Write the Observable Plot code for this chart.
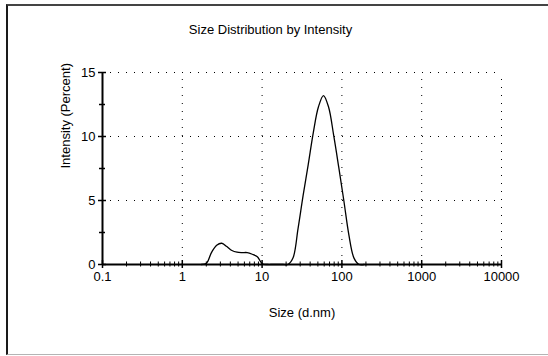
<!DOCTYPE html>
<html><head><meta charset="utf-8">
<script src="https://cdn.jsdelivr.net/npm/d3@7"></script>
<script src="https://cdn.jsdelivr.net/npm/@observablehq/plot@0.6"></script>
<style>
body{margin:0;background:#fff;}
#wrap{position:relative;width:548px;height:356px;overflow:hidden;font-family:"Liberation Sans",Arial,sans-serif;}
#frame{position:absolute;left:6px;top:4px;width:560px;height:348px;border-top:2px solid #444;border-left:2px solid #1a1a1a;border-bottom:1px solid #b4b4b4;pointer-events:none;}
#chart svg{position:absolute;left:0;top:0;}
</style></head><body>
<div id="wrap"><div id="chart"></div><div id="frame"></div></div>
<script>
const title = "Size Distribution by Intensity";
const xLabel = "Size (d.nm)";
const yLabel = "Intensity (Percent)";
const sizes = [1.736, 2.010, 2.328, 2.696, 3.122, 3.615, 4.187, 4.849, 5.615, 6.503, 7.531, 8.721, 10.10, 11.70, 13.54, 15.69, 18.17, 21.04, 24.36, 28.21, 32.67, 37.84, 43.82, 50.75, 58.77, 68.06, 78.82, 91.28, 105.7, 122.4, 141.8, 164.2, 190.1];
const intensity = [0, 0.1, 0.95, 1.5, 1.66, 1.4, 1.09, 0.96, 0.93, 0.93, 0.8, 0.6, 0.05, 0, 0, 0, 0, 0, 0.5, 2.8, 5.4, 7.8, 10.3, 12.3, 13.2, 12.3, 10.1, 7.6, 5.0, 2.3, 0.5, 0, 0];
const xTicks = [0.1, 1, 10, 100, 1000, 10000];
const xTickLabels = ["0.1", "1", "10", "100", "1000", "10000"];
const yTicks = [0, 5, 10, 15];
const yTickLabels = ["0", "5", "10", "15"];
const yMinor = [2.5, 7.5, 12.5];

const xMinor = [];
for (const d of xTicks.slice(0, -1)) for (let k = 2; k <= 9; k++) xMinor.push(d * k);
const data = sizes.map((s, i) => ({size: s, value: intensity[i]}));
const dots = "1,7";

const plot = Plot.plot({
  width: 548, height: 356,
  marginLeft: 102, marginRight: 47, marginTop: 72, marginBottom: 92,
  style: {fontFamily: "Liberation Sans, Arial, sans-serif", fontSize: "13px", background: "transparent", color: "black"},
  x: {type: "log", domain: [0.1, 10000]},
  y: {domain: [0, 15]},
  marks: [
    Plot.ruleX(xTicks.slice(1), {y1: 0, y2: 15, stroke: "black", strokeDasharray: dots}),
    Plot.ruleY(yTicks.slice(1), {x1: 0.1, x2: 10000, stroke: "black", strokeDasharray: dots}),
    Plot.ruleY([0], {x1: 0.1, x2: 10000, stroke: "black", strokeWidth: 2}),
    Plot.ruleX([0.1], {y1: 0, y2: 15, stroke: "black", strokeWidth: 2}),
    Plot.ruleX(xMinor, {y1: 0, y2: 0, insetTop: -2.5, insetBottom: -2.5, stroke: "black"}),
    Plot.ruleX(xTicks, {y1: 0, y2: 0, insetTop: -4, insetBottom: -4, stroke: "black", strokeWidth: 1.5}),
    Plot.ruleY(yMinor, {x1: 0.1, x2: 0.1, insetLeft: -3, insetRight: -3, stroke: "black", strokeWidth: 1.5}),
    Plot.ruleY(yTicks, {x1: 0.1, x2: 0.1, insetLeft: -4, insetRight: -4, stroke: "black", strokeWidth: 1.5}),
    Plot.line(data, {x: "size", y: "value", stroke: "black", strokeWidth: 1.3, curve: "catmull-rom"}),
    Plot.axisX({ticks: xTicks, tickFormat: d => xTickLabels[xTicks.indexOf(d)], tickSize: 0, tickPadding: 7, label: null, fontSize: 13}),
    Plot.axisY({ticks: yTicks, tickFormat: d => yTickLabels[yTicks.indexOf(d)], tickSize: 0, tickPadding: 7, label: null, fontSize: 13}),
    Plot.text([xLabel], {frameAnchor: "bottom", dy: 48, lineAnchor: "middle", fontSize: 13, fill: "black"}),
    Plot.text([yLabel], {frameAnchor: "left", rotate: -90, dx: -37, lineAnchor: "middle", fontSize: 13, fill: "black"}),
    Plot.text([title], {frameAnchor: "top", dy: -43, dx: -31.5, lineAnchor: "middle", fontSize: 13, fill: "black"})
  ]
});
document.getElementById("chart").appendChild(plot);
</script>
</body></html>
